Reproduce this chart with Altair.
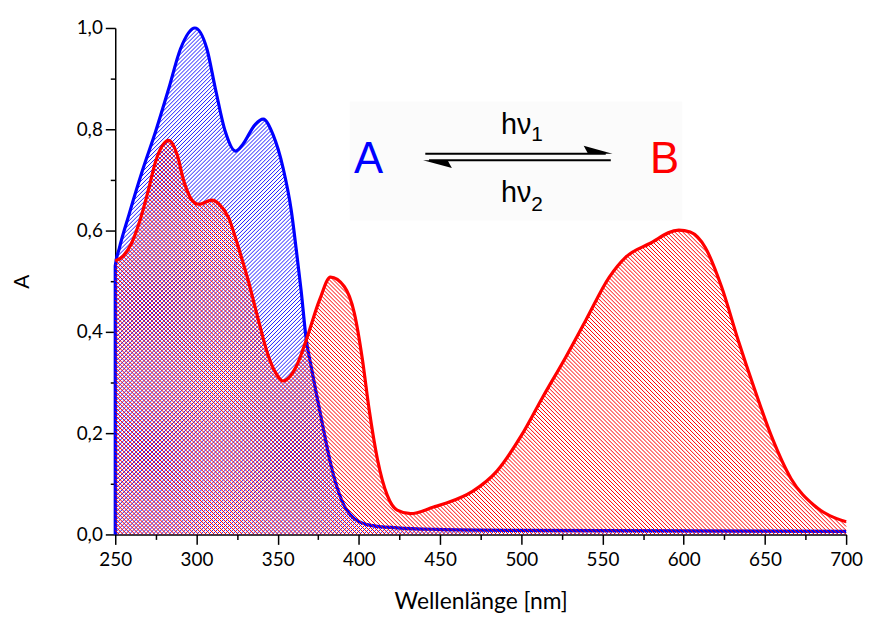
import math
import numpy as np
import pandas as pd
import altair as alt

# ---------------- data ----------------
# Spectrum of A (blue)
blue_nm = [250, 250, 252.5, 258.6, 266.7, 274.9, 283.0, 290.2, 299.0, 306.4,
           311.6, 317.7, 324.0, 328.5, 336.0, 341.1, 347.2, 353.3, 358.4, 361.5,
           364.5, 367.6, 370.6, 373.7, 377.8, 382.9, 389.0, 397.2, 407.3, 423.6,
           448.0, 500.0, 600.0, 700.0]
blue_abs = [0.0, 0.53, 0.565, 0.633, 0.718, 0.796, 0.881, 0.959, 1.0, 0.959,
            0.881, 0.796, 0.757, 0.77, 0.809, 0.82, 0.789, 0.724, 0.639, 0.561,
            0.48, 0.385, 0.332, 0.28, 0.214, 0.136, 0.071, 0.031, 0.018, 0.013,
            0.010, 0.008, 0.007, 0.006]

# Spectrum of B (red)
red_nm = [250, 255.0, 260.0, 265.0, 270.0, 275.0, 283.0, 288.1, 292.2,
          297.3, 301.4, 309.5, 314.0, 319.7, 326.0, 332.0, 338.0, 344.0, 349.0,
          353.3, 361.5, 367.6, 375.8, 382.5, 391.1, 397.2, 402.2, 406.3, 411.4,
          417.5, 423.6, 431.8, 446.0, 454.0, 470.0, 485.0, 500.0, 513.0, 527.7, 539.9,
          554.2, 564.5, 578.8, 597.0, 604.0, 613.2, 623.3, 633.5, 643.7, 653.9,
          666.1, 680.4, 700.0]
red_abs = [0.54, 0.55, 0.575, 0.618, 0.675, 0.738, 0.778, 0.75, 0.698,
           0.66, 0.652, 0.66, 0.652, 0.626, 0.565, 0.50, 0.425, 0.355, 0.318,
           0.303, 0.332, 0.384, 0.463, 0.508, 0.489, 0.437, 0.345, 0.247, 0.149,
           0.077, 0.048, 0.041, 0.054, 0.062, 0.085, 0.125, 0.195, 0.27, 0.352, 0.424,
           0.508, 0.548, 0.574, 0.601, 0.597, 0.567, 0.489, 0.384, 0.286, 0.195,
           0.11, 0.057, 0.025]

x_ticks = list(range(250, 701, 25))
y_ticks = [round(i * 0.1, 1) for i in range(11)]

x_title = "Wellenlänge [nm]"
y_title = "A"

# scheme annotation (A <-> B with h nu)
label_a = "A"
label_b = "B"
label_hv = "hν"
sub_1 = "1"
sub_2 = "2"

# ---------------- layout ----------------
W, H = 736, 510
X_MIN, X_MAX = 250, 700
Y_MIN, Y_MAX = 0.0, 1.0
HATCH = 4.0  # px between hatch lines (horizontal)


def monotone_tangents(xs, ys):
    """Tangents used by d3's curveMonotoneX (Vega 'monotone' interpolation)."""
    n = len(xs)
    t = [0.0] * n

    def sgn(v):
        return (v > 0) - (v < 0)

    def slope3(x0, y0, x1, y1, x2, y2):
        h0, h1 = x1 - x0, x2 - x1
        s0 = (y1 - y0) / h0 if h0 else (math.copysign(math.inf, y1 - y0) if y1 != y0 else 0.0)
        s1 = (y2 - y1) / h1 if h1 else (math.copysign(math.inf, y2 - y1) if y2 != y1 else 0.0)
        a = s0 * h1 if h1 else 0.0
        b = s1 * h0 if h0 else 0.0
        p = (a + b) / (h0 + h1)
        r = (sgn(s0) + sgn(s1)) * min(abs(s0), abs(s1), 0.5 * abs(p))
        return r if math.isfinite(r) else 0.0

    for i in range(1, n - 1):
        t[i] = slope3(xs[i - 1], ys[i - 1], xs[i], ys[i], xs[i + 1], ys[i + 1])
    h = xs[1] - xs[0]
    t[0] = (3 * (ys[1] - ys[0]) / h - t[1]) / 2 if h else t[1]
    h = xs[-1] - xs[-2]
    t[-1] = (3 * (ys[-1] - ys[-2]) / h - t[-2]) / 2 if h else t[-2]
    return t


def curve_eval(xs, ys, xq):
    xs_a = np.asarray(xs, float)
    ys_a = np.asarray(ys, float)
    t = np.asarray(monotone_tangents(xs, ys), float)
    idx = np.searchsorted(xs_a, xq, side="right") - 1
    idx = np.clip(idx, 0, len(xs_a) - 2)
    x0, x1 = xs_a[idx], xs_a[idx + 1]
    y0, y1 = ys_a[idx], ys_a[idx + 1]
    t0, t1 = t[idx], t[idx + 1]
    h = np.where(x1 - x0 == 0, 1e-9, x1 - x0)
    s = np.clip((xq - x0) / h, 0, 1)
    h00 = 2 * s**3 - 3 * s**2 + 1
    h10 = s**3 - 2 * s**2 + s
    h01 = -2 * s**3 + 3 * s**2
    h11 = s**3 - s**2
    return h00 * y0 + h10 * h * t0 + h01 * y1 + h11 * h * t1


def hatch_segments(xs, ys, direction):
    """Diagonal hatch lines clipped to the region under the drawn curve."""
    u = np.arange(0, W + 1e-9, 0.25)
    xq = X_MIN + u * (X_MAX - X_MIN) / W
    f = curve_eval(xs, ys, xq) * H / (Y_MAX - Y_MIN)
    rows = []
    if direction > 0:
        cs = np.arange(-H, W + HATCH, HATCH)
    else:
        cs = np.arange(0, W + H + HATCH, HATCH)
    for c in cs:
        v = u - c if direction > 0 else c - u
        m = (v >= -1e-9) & (v <= f) & (v <= H)
        if not m.any():
            continue
        d = np.diff(np.concatenate([[0], m.astype(int), [0]]))
        starts = np.where(d == 1)[0]
        ends = np.where(d == -1)[0] - 1
        for a, b in zip(starts, ends):
            if b <= a:
                continue
            rows.append({
                "x": X_MIN + u[a] * (X_MAX - X_MIN) / W,
                "y": max(v[a], 0) / H,
                "x2": X_MIN + u[b] * (X_MAX - X_MIN) / W,
                "y2": max(v[b], 0) / H,
            })
    return pd.DataFrame(rows)


blue_df = pd.DataFrame({"x": blue_nm, "y": blue_abs})
red_df = pd.DataFrame({"x": red_nm, "y": red_abs})
blue_hatch = hatch_segments(blue_nm, blue_abs, +1)
red_hatch = hatch_segments(red_nm, red_abs, -1)

LABEL_FONT = "Lato"
x_axis = alt.Axis(
    values=x_ticks,
    labelExpr="datum.value % 50 == 0 ? datum.label : ''",
    tickSize={"condition": {"test": "datum.value % 50 != 0", "value": 5}, "value": 10},
    title=x_title, grid=False, domainColor="black", domainWidth=1.5,
    tickColor="black", tickWidth=1.5, labelFont=LABEL_FONT, labelFontSize=19,
    labelColor="black", labelPadding=6, labelFlush=False, labelOverlap=False,
    titleFont=LABEL_FONT, titleFontSize=23, titleFontWeight="normal",
    titleColor="black", titlePadding=22,
)
y_axis = alt.Axis(
    values=y_ticks,
    labelExpr="round(datum.value*10) % 2 == 0 ? replace(format(datum.value, '.1f'), '.', ',') : ''",
    tickSize={"condition": {"test": "round(datum.value*10) % 2 == 1", "value": 5}, "value": 10},
    title=y_title, grid=False, domainColor="black", domainWidth=1.5,
    tickColor="black", tickWidth=1.5, labelFont=LABEL_FONT, labelFontSize=19,
    labelColor="black", labelPadding=3, labelFlush=False, labelOverlap=False,
    titleFont=LABEL_FONT, titleFontSize=21, titleFontWeight="normal",
    titleColor="black", titlePadding=44,
)
xs_ = alt.Scale(domain=[X_MIN, X_MAX], nice=False, zero=False)
ys_ = alt.Scale(domain=[Y_MIN, Y_MAX], nice=False, zero=False)


def X():
    return alt.X("x:Q", scale=xs_, axis=x_axis)


def Y():
    return alt.Y("y:Q", scale=ys_, axis=y_axis)


BLUE = "#0000ff"
RED = "#ff0000"

# annotation positions (data coordinates)
box_df = pd.DataFrame({"x": [394.3], "x2": [599.1], "y": [0.62], "y2": [0.855]})
ab_df = pd.DataFrame({"x": [406.0, 588.2], "y": [0.714, 0.714], "t": [label_a, label_b],
                      "c": ["A", "B"]})
hv_df = pd.DataFrame({"x": [506.2, 506.2], "y": [0.790, 0.6555], "t": [label_hv, label_hv]})
sub_df = pd.DataFrame({"x": [506.2, 506.2], "y": [0.776, 0.639], "t": [sub_1, sub_2]})
arrow_df = pd.DataFrame({"x": [440.9, 443.2], "x2": [552.0, 555.1], "y": [0.7516, 0.739]})
head_top = pd.DataFrame({"x": [547.3], "y": [0.7516]})
head_bot = pd.DataFrame({"x": [448.4], "y": [0.739]})

box = alt.Chart(box_df).mark_rect(fill="#fbfbfb").encode(
    x=X(), x2="x2:Q", y=Y(), y2="y2:Q")

bh = alt.Chart(blue_hatch).mark_rule(color=BLUE, strokeWidth=0.9).encode(
    x=X(), x2="x2:Q", y=Y(), y2="y2:Q")
bl = alt.Chart(blue_df).mark_line(color=BLUE, strokeWidth=3.2, interpolate="monotone").encode(
    x=X(), y=Y())
rh = alt.Chart(red_hatch).mark_rule(color=RED, strokeWidth=1.0).encode(
    x=X(), x2="x2:Q", y=Y(), y2="y2:Q")
rl = alt.Chart(red_df).mark_line(color=RED, strokeWidth=3.2, interpolate="monotone").encode(
    x=X(), y=Y())

ab_text = alt.Chart(ab_df).mark_text(
    font="Liberation Sans", fontSize=44, align="center", baseline="alphabetic").encode(
    x=X(), y=Y(), text="t:N",
    color=alt.Color("c:N", scale=alt.Scale(domain=["A", "B"], range=[BLUE, RED]), legend=None))
hv_text = alt.Chart(hv_df).mark_text(
    font="Liberation Sans", fontSize=29, align="right", baseline="alphabetic", color="black").encode(
    x=X(), y=Y(), text="t:N")
sub_text = alt.Chart(sub_df).mark_text(
    font="Liberation Sans", fontSize=21, align="left", baseline="alphabetic", color="black").encode(
    x=X(), y=Y(), text="t:N")
arrows = alt.Chart(arrow_df).mark_rule(color="black", strokeWidth=2).encode(
    x=X(), x2="x2:Q", y=Y())
h1 = alt.Chart(head_top).mark_point(
    shape="M 1 0 L -1 -0.55 L -0.7 0 Z", filled=True, size=841, color="black",
    opacity=1, strokeWidth=0).encode(x=X(), y=Y())
h2 = alt.Chart(head_bot).mark_point(
    shape="M -1 0 L 1 0.55 L 0.7 0 Z", filled=True, size=841, color="black",
    opacity=1, strokeWidth=0).encode(x=X(), y=Y())

chart = alt.layer(box, bh, bl, rh, rl, arrows, h1, h2, ab_text, hv_text, sub_text).properties(
    width=W, height=H,
    autosize=alt.AutoSizeParams(type="none"),
    padding={"left": 108, "top": 18, "right": 17, "bottom": 78},
    background="white",
).configure_view(stroke=None)

chart.save("out.html", embed_options={"renderer": "svg", "actions": False})
